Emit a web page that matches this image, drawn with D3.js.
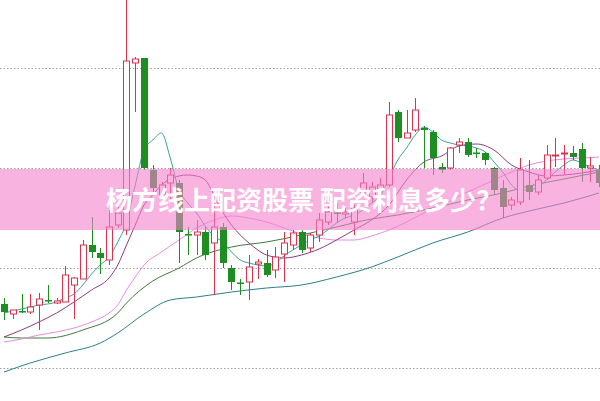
<!DOCTYPE html>
<html><head><meta charset="utf-8">
<script src="https://cdn.jsdelivr.net/npm/d3@7"></script>
<style>body{margin:0;background:#fff;} svg{display:block;}</style>
</head><body>
<svg id="c" width="600" height="401"></svg>
<script>
// ---- data ----
const openP  = [16.37,15.37,15.67,15.57,16.27,16.77,16.47,16.57,18.27,18.87,22.27,21.47,20.77,24.27,23.77,40.47,40.97,29.77,27.27,28.47,28.47,23.37,23.27,23.57,22.47,24.07,19.97,18.52,18.57,20.37,20.47,19.77,21.37,22.27,23.57,21.97,23.27,24.57,25.52,25.37,24.57,27.47,27.07,27.77,28.27,35.57,32.97,33.77,33.97,33.57,30.07,29.97,32.27,32.57,31.52,31.47,29.97,27.97,26.27,26.57,28.27,27.57,28.97,31.17,31.37,31.47,31.87,29.97,29.77];
const highP  = [16.97,15.77,17.37,17.37,17.47,18.27,16.97,20.17,19.07,22.77,25.07,21.97,25.77,26.07,47.50,41.07,40.97,30.27,28.57,29.97,28.77,24.07,24.77,24.07,26.47,24.47,20.27,18.87,21.27,20.87,21.77,22.07,23.57,23.77,23.77,23.47,25.47,26.27,26.47,25.97,26.27,29.47,28.57,28.97,36.57,35.77,35.77,36.97,34.17,33.77,30.47,32.07,32.97,32.97,31.97,31.57,30.07,28.77,27.07,30.97,30.77,29.27,32.27,32.97,32.27,32.17,32.47,31.07,30.27];
const lowP   = [14.77,14.87,15.47,15.37,13.77,16.47,16.37,16.57,14.87,18.87,20.97,19.37,20.27,23.97,23.27,35.57,29.77,27.57,26.97,26.77,20.47,21.27,21.27,20.77,17.27,19.97,17.77,17.27,16.77,18.87,19.07,18.97,18.57,21.77,21.47,21.57,22.57,24.27,24.47,24.97,23.27,27.07,26.57,27.47,28.07,32.57,32.97,33.57,29.97,29.27,29.47,29.77,31.47,31.07,30.97,30.27,27.27,24.97,25.77,26.27,26.77,27.27,28.77,30.07,29.27,30.77,28.57,28.57,28.07];
const closeP = [15.57,15.77,15.57,16.07,16.87,16.62,16.67,19.27,18.97,22.27,21.57,20.97,24.07,25.47,40.67,40.87,29.97,27.97,28.27,29.27,23.57,23.27,23.57,21.27,24.07,20.47,18.57,18.42,20.07,20.57,19.27,21.07,22.47,23.47,21.77,23.27,24.77,25.57,25.42,25.57,25.97,28.47,28.07,28.27,35.27,32.97,33.47,35.77,33.77,30.97,29.77,31.97,32.57,31.27,31.42,30.77,27.77,26.07,26.77,29.77,27.57,28.77,31.27,31.27,31.47,31.07,29.97,30.17,28.47];

const gridTicks = [10, 20, 30, 40];

const ma5 = [15.47,15.67,15.87,16.07,16.27,16.37,16.57,16.97,17.37,18.27,19.37,20.27,21.07,22.57,24.57,28.27,31.77,32.77,33.47,30.97,27.77,26.47,25.47,24.17,23.17,22.57,21.57,20.77,20.47,20.27,20.17,20.47,21.17,21.77,22.27,22.77,23.17,23.77,24.47,24.97,25.27,25.77,26.47,27.17,28.97,30.77,31.97,33.27,34.07,33.57,32.77,32.47,32.27,32.17,31.97,31.57,30.57,29.57,28.27,27.77,27.77,28.07,28.77,29.57,30.27,30.77,30.47,30.07,29.77];

const ma10Idx = [0,2,4,6,8,10,12,13,14,15,16,17,18,19,20,21,22,23,24,25,26,27,28,29,30,32,34,36,38,40,42,44,46,48,50,52,54,56,58,60,62,64,66,68];
const ma10    = [13.07,13.77,14.57,15.47,16.57,17.77,18.97,20.27,22.27,24.27,26.27,27.27,28.27,28.87,29.17,29.27,29.17,28.77,27.27,25.57,24.27,23.27,22.47,21.77,21.27,20.97,21.27,21.87,22.77,23.77,24.77,26.27,28.77,30.57,31.17,32.17,32.37,31.77,30.27,29.57,29.17,29.27,29.47,29.77];

const ma20Idx = [0,2,4,6,8,10,12,13,14,15,16,18,20,22,24,26,28,30,32,34,36,38,40,42,44,46,48,50,52,54,56,58,60,62,64,66,68];
const ma20    = [12.57,12.87,13.27,13.57,13.97,14.57,15.47,16.27,17.77,19.07,20.27,21.57,22.77,23.97,24.77,25.17,24.97,24.57,23.97,23.37,22.97,22.77,22.77,23.17,23.77,24.57,25.47,26.27,27.17,27.97,28.77,29.57,30.27,30.67,30.87,30.97,31.07];

const ma30Idx = [0,2,5,9,13,14,17,20,22,26,30,34,38,42,45,49,53,57,60,64,68];
const ma30    = [13.07,12.97,12.97,13.77,15.47,16.47,18.67,19.97,20.97,22.07,22.57,23.27,24.07,24.87,25.27,25.97,26.77,27.47,28.17,28.87,29.57];

const ma60Idx = [0,3,7,11,13,16,19,22,26,30,34,38,42,45,49,53,57,60,64,68];
const ma60    = [9.57,10.47,11.47,12.47,13.47,15.37,16.77,17.07,17.57,17.97,18.27,19.07,20.07,21.07,22.47,23.57,24.97,25.67,26.47,27.47];

const title = "杨方线上配资股票 配资利息多少？";

// ---- drawing ----
const svg = d3.select("#c");
const W = 600, H = 401;
const x = d3.scaleLinear().domain([0, openP.length - 1]).range([4, 599]);
const y = d3.scaleLinear().domain([10, 40]).range([367.7, 67.7]);

svg.append("rect").attr("width", W).attr("height", H).attr("fill", "#fff");

// dotted grid
svg.append("g").selectAll("line").data(gridTicks).join("line")
  .attr("x1", 0).attr("x2", W)
  .attr("y1", d => Math.round(y(d)) + 0.5).attr("y2", d => Math.round(y(d)) + 0.5)
  .attr("stroke", "#a0a0a0").attr("stroke-width", 1).attr("stroke-dasharray", "1.5,2");

// moving averages
function drawLine(idx, vals, color) {
  const pts = idx.map((i, k) => [x(i), y(vals[k])]);
  svg.append("path").attr("d", d3.line().curve(d3.curveMonotoneX)(pts))
    .attr("fill", "none").attr("stroke", color).attr("stroke-width", 1);
}
drawLine(ma60Idx, ma60, "#2b7f88");
drawLine(ma30Idx, ma30, "#3d7d3a");
drawLine(ma20Idx, ma20, "#e48de0");
drawLine(ma10Idx, ma10, "#8e3b7c");
drawLine(d3.range(ma5.length), ma5, "#3a9fa0");

// candles
const RED = "#d9324c", GREEN = "#1f8e22";
const bw = 6;
const candles = d3.range(openP.length).map(i => ({
  i, o: openP[i], h: highP[i], l: lowP[i], c: closeP[i]
}));
const g = svg.append("g");
candles.forEach(d => {
  const cx = Math.round(x(d.i)) + 0.5;
  const up = d.c >= d.o;
  const top = y(Math.max(d.o, d.c)), bot = y(Math.min(d.o, d.c));
  const col = up ? RED : GREEN;
  if (up) {
    g.append("line").attr("x1", cx).attr("x2", cx).attr("y1", y(d.h)).attr("y2", top).attr("stroke", col);
    g.append("line").attr("x1", cx).attr("x2", cx).attr("y1", bot).attr("y2", y(d.l)).attr("stroke", col);
    g.append("rect").attr("x", cx - bw / 2).attr("y", top).attr("width", bw).attr("height", Math.max(1, bot - top))
      .attr("fill", "#fff").attr("stroke", col).attr("stroke-width", 1);
  } else {
    g.append("line").attr("x1", cx).attr("x2", cx).attr("y1", y(d.h)).attr("y2", y(d.l)).attr("stroke", col);
    g.append("rect").attr("x", cx - bw / 2 - 0.5).attr("y", top).attr("width", bw + 1).attr("height", Math.max(1.5, bot - top))
      .attr("fill", col);
  }
});

// pink banner
svg.append("rect").attr("x", 0).attr("y", 169).attr("width", W).attr("height", 61)
  .attr("fill", "rgb(245,128,205)").attr("fill-opacity", 0.6);

svg.append("text").attr("x", 304).attr("y", 210).attr("text-anchor", "middle")
  .attr("font-family", "'Noto Sans CJK SC', 'Noto Sans', sans-serif")
  .attr("font-weight", "bold").attr("font-size", 26).attr("fill", "#fff")
  .text(title);
</script>
</body></html>
